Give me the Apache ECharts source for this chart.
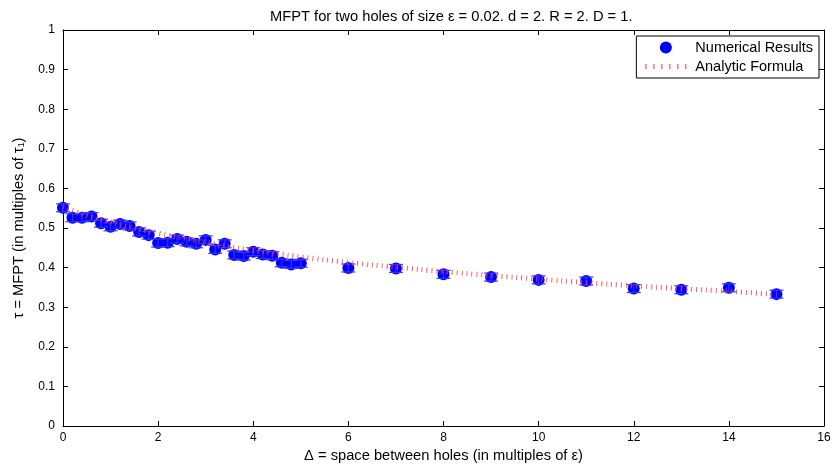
<!DOCTYPE html>
<html>
<head>
<meta charset="utf-8">
<script src="https://cdn.jsdelivr.net/npm/echarts@6/dist/echarts.min.js"></script>
<style>html,body{margin:0;padding:0;background:#fff}#c{width:834px;height:470px}</style>
</head>
<body>
<div id="c"></div>
<script>
const titleText = 'MFPT for two holes of size \u03b5 = 0.02. d = 2. R = 2. D = 1.';
const xName = '\u0394 = space between holes (in multiples of \u03b5)';
const yName = '\u03c4 = MFPT (in multiples of \u03c4\u2081)';
const numName = 'Numerical Results';
const anaName = 'Analytic Formula';

const xNum = [0, 0.2, 0.4, 0.6, 0.8, 1.0, 1.2, 1.4, 1.6, 1.8, 2.0, 2.2, 2.4, 2.6, 2.8, 3.0, 3.2, 3.4, 3.6, 3.8, 4.0, 4.2, 4.4, 4.6, 4.8, 5.0, 6, 7, 8, 9, 10, 11, 12, 13, 14, 15];
const yNum = [0.551, 0.526, 0.526, 0.529, 0.512, 0.503, 0.510, 0.505, 0.490, 0.482, 0.462, 0.463, 0.472, 0.465, 0.460, 0.470, 0.446, 0.460, 0.432, 0.429, 0.440, 0.433, 0.430, 0.412, 0.408, 0.411, 0.399, 0.398, 0.383, 0.376, 0.369, 0.366, 0.347, 0.344, 0.349, 0.333];
const errNum = [0.010, 0.010, 0.010, 0.010, 0.010, 0.010, 0.010, 0.010, 0.010, 0.010, 0.010, 0.010, 0.010, 0.010, 0.010, 0.010, 0.010, 0.010, 0.010, 0.010, 0.010, 0.010, 0.010, 0.010, 0.010, 0.010, 0.010, 0.010, 0.010, 0.010, 0.010, 0.010, 0.010, 0.010, 0.010, 0.010];

const xAna = [0, 0.5, 1, 1.5, 2, 2.5, 3, 3.5, 4, 4.5, 5, 6, 7, 8, 9, 10, 11, 12, 13, 14, 15];
const yAna = [0.553, 0.532, 0.515, 0.500, 0.487, 0.475, 0.464, 0.453, 0.443, 0.435, 0.427, 0.413, 0.401, 0.390, 0.380, 0.371, 0.362, 0.354, 0.347, 0.340, 0.332];

const xTicks = {min: 0, max: 16, interval: 2};
const yTicks = {min: 0, max: 1, interval: 0.1};

const font = 'Liberation Sans, Arial, Helvetica, sans-serif';
const chart = echarts.init(document.getElementById('c'), null, {renderer: 'canvas'});

const numData = xNum.map((x, i) => [x, yNum[i]]);
const errData = xNum.map((x, i) => [x, yNum[i] - errNum[i], yNum[i] + errNum[i]]);
const anaData = xAna.map((x, i) => [x, yAna[i]]);

function axisCommon() {
  return {
    axisLine: {show: true, onZero: false, lineStyle: {color: '#000', width: 1}},
    axisTick: {show: true, inside: true, length: 5, lineStyle: {color: '#000', width: 1}},
    splitLine: {show: false}
  };
}

const tickIcon = 'path://M0,0h1.2v5h-1.2z M8,0h1.2v5h-1.2z M16,0h1.2v5h-1.2z M24,0h1.2v5h-1.2z M32,0h1.2v5h-1.2z M40,0h1.2v5h-1.2z';

chart.setOption({
  animation: false,
  backgroundColor: '#fff',
  title: {
    text: titleText,
    left: 265, top: 4,
    textStyle: {fontFamily: font, fontSize: 14.7, fontWeight: 'normal', color: '#000'}
  },
  grid: {left: 63, right: 10, top: 30, bottom: 44, containLabel: false},
  legend: {
    orient: 'vertical',
    right: 15, top: 36,
    backgroundColor: '#fff',
    borderColor: '#000', borderWidth: 1, borderRadius: 0,
    padding: [4, 6, 4, 9],
    itemGap: 4,
    itemWidth: 41, itemHeight: 12,
    textStyle: {fontFamily: font, fontSize: 14.5, color: '#000', padding: [0, 0, 0, 4]},
    data: [
      {name: numName, icon: 'circle'},
      {name: anaName, icon: tickIcon, itemStyle: {color: '#ff5050'}}
    ]
  },
  xAxis: [
    Object.assign({
      type: 'value', position: 'bottom',
      min: xTicks.min, max: xTicks.max, interval: xTicks.interval,
      name: xName, nameLocation: 'middle', nameGap: 22,
      nameTextStyle: {fontFamily: font, fontSize: 14.7, color: '#000'},
      axisLabel: {fontFamily: font, fontSize: 12, color: '#000', margin: 6}
    }, axisCommon()),
    Object.assign({
      type: 'value', position: 'top',
      min: xTicks.min, max: xTicks.max, interval: xTicks.interval,
      axisLabel: {show: false}
    }, axisCommon())
  ],
  yAxis: [
    Object.assign({
      type: 'value', position: 'left',
      min: yTicks.min, max: yTicks.max, interval: yTicks.interval,
      name: yName, nameLocation: 'middle', nameGap: 37, nameRotate: 90,
      nameTextStyle: {fontFamily: font, fontSize: 14.7, color: '#000'},
      axisLabel: {fontFamily: font, fontSize: 12, color: '#000', margin: 8}
    }, axisCommon()),
    Object.assign({
      type: 'value', position: 'right',
      min: yTicks.min, max: yTicks.max, interval: yTicks.interval,
      axisLabel: {show: false}
    }, axisCommon())
  ],
  series: [
    {
      name: numName,
      type: 'scatter',
      data: numData,
      symbol: 'circle',
      symbolSize: 12,
      itemStyle: {color: '#0000ff', opacity: 1},
      z: 3
    },
    {
      name: numName,
      type: 'custom',
      data: errData,
      z: 4,
      renderItem: function (params, api) {
        const x = api.value(0);
        const lo = api.coord([x, api.value(1)]);
        const hi = api.coord([x, api.value(2)]);
        const hw = 7;
        const st = {stroke: '#3333ff', lineWidth: 1.2};
        return {
          type: 'group',
          children: [
            {type: 'line', shape: {x1: lo[0], y1: lo[1], x2: hi[0], y2: hi[1]}, style: st},
            {type: 'line', shape: {x1: lo[0] - hw, y1: lo[1], x2: lo[0] + hw, y2: lo[1]}, style: st},
            {type: 'line', shape: {x1: hi[0] - hw, y1: hi[1], x2: hi[0] + hw, y2: hi[1]}, style: st}
          ]
        };
      }
    },
    {
      name: anaName,
      type: 'line',
      data: anaData,
      smooth: true,
      symbol: 'none',
      showSymbol: false,
      lineStyle: {color: '#ff4040', width: 5, type: [1, 4], opacity: 0.85},
      itemStyle: {color: '#ff5050'},
      z: 5
    }
  ]
});
</script>
</body>
</html>
